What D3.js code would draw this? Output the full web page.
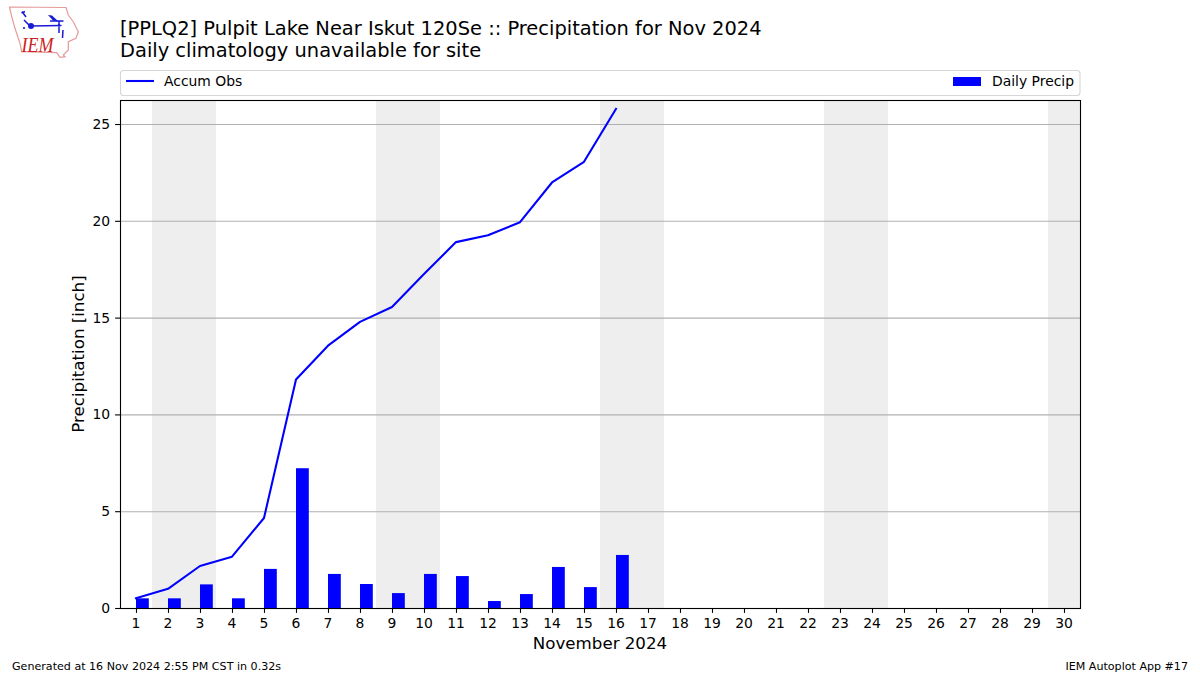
<!DOCTYPE html>
<html>
<head>
    <title>IEM Autoplot 17</title>
    <script src="https://d3js.org/d3.v7.min.js" charset="utf-8"></script>
    <style>
        html, body { margin: 0; padding: 0; background: white; }
        svg { display: block; }
        text { font-family: "DejaVu Sans", sans-serif; fill: #000; }
    </style>
</head>
<body>
<script>
    var days = d3.range(1, 31);
    var obsDays = [1, 2, 3, 4, 5, 6, 7, 8, 9, 10, 11, 12, 13, 14, 15, 16];
    var dailyPrecip = [0.5, 0.5, 1.22, 0.5, 2.02, 7.22, 1.76, 1.24, 0.77, 1.76, 1.65, 0.36, 0.72, 2.12, 1.08, 2.74];
    var accumObs = [0.5, 0.99, 2.17, 2.65, 4.65, 11.8, 13.55, 14.78, 15.55, 17.25, 18.9, 19.25, 19.93, 21.98, 23.05, 25.78];
    var weekendDays = [2, 3, 9, 10, 16, 17, 23, 24, 30];
    var yTicks = [0, 5, 10, 15, 20, 25];

    var titleLines = ['[PPLQ2] Pulpit Lake Near Iskut 120Se :: Precipitation for Nov 2024',
                      'Daily climatology unavailable for site'];

    var left = 120, right = 1080, top_ = 100.4, bottom = 608;
    var svg = d3.select('body').append('svg').attr('width', 1200).attr('height', 675);

    var x = d3.scaleLinear().domain([0.5, 30.5]).range([left, right]);
    var y = d3.scaleLinear().domain([0, 26.22]).range([bottom, top_]);

    // weekend shading
    svg.append('g').selectAll('rect')
        .data(weekendDays)
        .enter().append('rect')
        .attr('x', function (d) { return x(d - 0.5); })
        .attr('width', function (d) { return x(d + 0.5) - x(d - 0.5); })
        .attr('y', top_)
        .attr('height', bottom - top_)
        .attr('fill', '#eeeeee');

    // grid
    svg.append('g').selectAll('line')
        .data(yTicks.slice(1))
        .enter().append('line')
        .attr('x1', left).attr('x2', right)
        .attr('y1', function (d) { return y(d) + 0.5; })
        .attr('y2', function (d) { return y(d) + 0.5; })
        .attr('stroke', '#b0b0b0')
        .attr('stroke-width', 1.1);

    // bars start on the day and run 0.4 to the right
    svg.append('g').selectAll('rect')
        .data(obsDays)
        .enter().append('rect')
        .attr('x', function (d) { return x(d); })
        .attr('width', x(1.4) - x(1))
        .attr('y', function (d, i) { return y(dailyPrecip[i]); })
        .attr('height', function (d, i) { return y(0) - y(dailyPrecip[i]); })
        .attr('fill', '#0000ff');

    var line = d3.line()
        .x(function (d) { return x(d); })
        .y(function (d, i) { return y(accumObs[i]); });

    svg.append('path')
        .attr('d', line(obsDays))
        .attr('fill', 'none')
        .attr('stroke', '#0000ff')
        .attr('stroke-width', 2.08)
        .attr('stroke-linecap', 'square')
        .attr('stroke-linejoin', 'round');

    // axes
    var xAxis = d3.axisBottom(x).tickValues(days).tickFormat(d3.format('d')).tickSizeOuter(0).tickSize(4.9).tickPadding(4.9);
    var yAxis = d3.axisLeft(y).tickValues(yTicks).tickFormat(d3.format('d')).tickSizeOuter(0).tickSize(4.9).tickPadding(4.9);

    var gx = svg.append('g').attr('transform', 'translate(0,' + bottom + ')').call(xAxis);
    var gy = svg.append('g').attr('transform', 'translate(' + left + ',0)').call(yAxis);
    [gx, gy].forEach(function (g) {
        g.select('.domain').remove();
        g.selectAll('line').attr('stroke', '#000').attr('stroke-width', 1.1);
        g.selectAll('text').attr('font-size', 13.9);
    });
    // the axis nudges ticks half a pixel, keep the labels centred on the day
    gx.selectAll('text').attr('dx', -0.5);

    svg.append('rect')
        .attr('x', 120.5).attr('y', 100.5)
        .attr('width', 960).attr('height', 508)
        .attr('fill', 'none')
        .attr('stroke', '#000')
        .attr('stroke-width', 1.1);

    // titles
    svg.selectAll('.title')
        .data(titleLines)
        .enter().append('text')
        .attr('class', 'title')
        .attr('x', 120)
        .attr('y', function (d, i) { return 35 + i * 22; })
        .attr('font-size', 19.44)
        .text(function (d) { return d; });

    svg.append('text')
        .attr('x', 600).attr('y', 649)
        .attr('text-anchor', 'middle')
        .attr('font-size', 16.67)
        .text('November 2024');

    svg.append('text')
        .attr('transform', 'translate(84,354) rotate(-90)')
        .attr('text-anchor', 'middle')
        .attr('font-size', 16.67)
        .text('Precipitation [inch]');

    // legend
    var legend = svg.append('g');
    legend.append('rect')
        .attr('x', 120.5).attr('y', 70.5)
        .attr('width', 959.5).attr('height', 25)
        .attr('rx', 3)
        .attr('fill', 'white')
        .attr('stroke', '#d6d6d6')
        .attr('stroke-width', 1.1);
    legend.append('line')
        .attr('x1', 126).attr('x2', 154)
        .attr('y1', 81).attr('y2', 81)
        .attr('stroke', '#0000ff')
        .attr('stroke-width', 2.08);
    legend.append('text')
        .attr('x', 164).attr('y', 86)
        .attr('font-size', 13.9)
        .text('Accum Obs');
    legend.append('rect')
        .attr('x', 953).attr('y', 77)
        .attr('width', 28).attr('height', 9)
        .attr('fill', '#0000ff');
    legend.append('text')
        .attr('x', 1074).attr('y', 86)
        .attr('text-anchor', 'end')
        .attr('font-size', 13.9)
        .text('Daily Precip');

    // footer
    svg.append('text')
        .attr('x', 12).attr('y', 670)
        .attr('font-size', 11.1)
        .text('Generated at 16 Nov 2024 2:55 PM CST in 0.32s');
    svg.append('text')
        .attr('x', 1188).attr('y', 670)
        .attr('text-anchor', 'end')
        .attr('font-size', 11.1)
        .text('IEM Autoplot App #17');

    // IEM logo
    var logo = svg.append('g');
    logo.append('path')
        .attr('d', 'M9.5,7 L66,7.5 L68.3,15 L73.3,21.7 L78.3,31.7 L76,38.3 L68.3,41.7 L68.3,50 L63.3,55 L65,56.7 L60,57.3 L56.7,52.7 L21.7,51.7 L20,43.3 L15,28.3 L11.7,16.7 Z')
        .attr('fill', 'white')
        .attr('stroke', '#e59a9a')
        .attr('stroke-width', 1.2);
    logo.append('path')
        .attr('d', 'M22,11.5 L26,17 M21.5,13 L25,11.5 M24,20 L29,25 M31,26 L61.5,25.5 M50,21 L63.5,21 M59,21 L59,33 M63,30 L62.5,38')
        .attr('fill', 'none')
        .attr('stroke', '#1a1ad6')
        .attr('stroke-width', 1.5);
    logo.append('path')
        .attr('d', 'M48,15 L52,15.5 L58.5,21.5 L53,20.5 Z')
        .attr('fill', '#1a1ad6');
    logo.append('circle').attr('cx', 31).attr('cy', 26).attr('r', 3).attr('fill', '#1a1ad6');
    logo.append('circle').attr('cx', 24).attr('cy', 28).attr('r', 1.1).attr('fill', '#1a1ad6');
    logo.append('text')
        .attr('x', 21.5).attr('y', 52)
        .attr('textLength', 32)
        .attr('lengthAdjust', 'spacingAndGlyphs')
        .style('font-family', '"Liberation Serif", serif')
        .style('font-style', 'italic')
        .style('font-size', '21.5px')
        .style('fill', '#cc2222')
        .text('IEM');
</script>
</body>
</html>
